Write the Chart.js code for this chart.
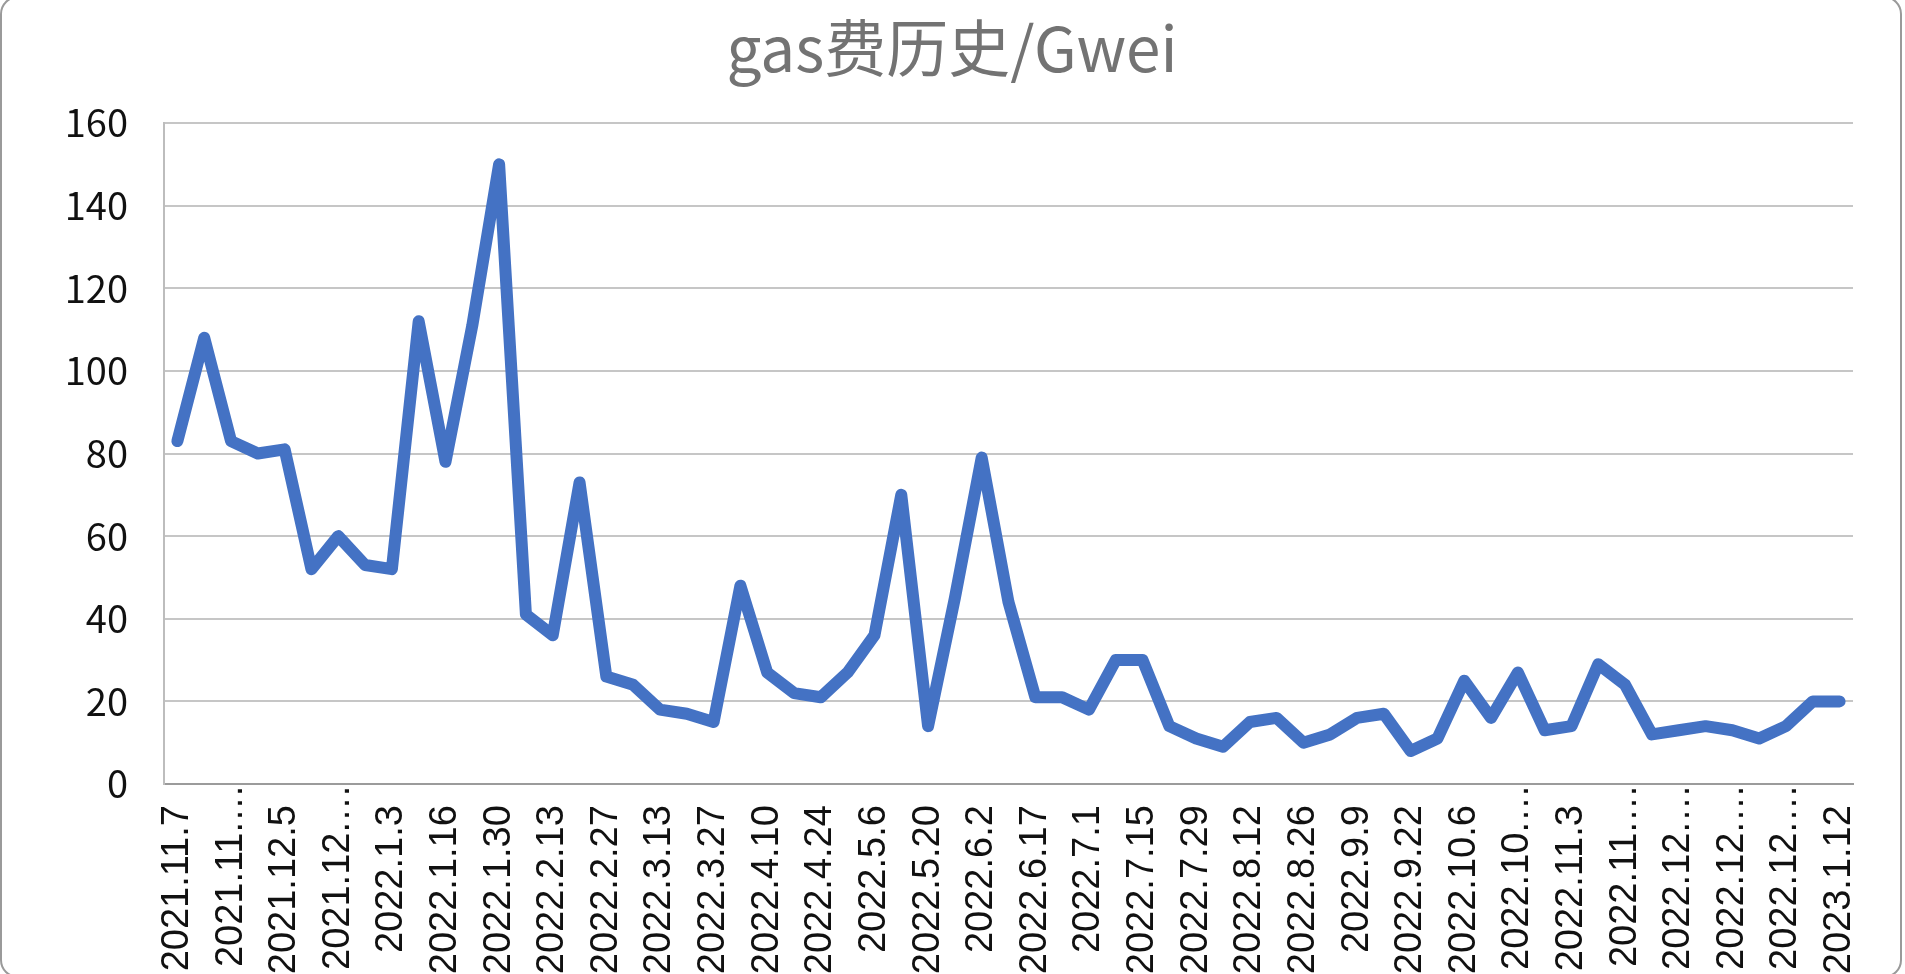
<!DOCTYPE html>
<html lang="zh">
<head>
  <meta charset="UTF-8">
  <title>gas费历史/Gwei</title>
  <script src="https://cdn.jsdelivr.net/npm/chart.js"></script>
  <style>
    html, body {
      margin: 0;
      padding: 0;
      background: #ffffff;
      overflow: hidden;
    }
    #frame {
      position: absolute;
      left: 0;
      top: -4px;
      width: 1898px;
      height: 978px;
      border: 2px solid #9a9a9a;
      border-radius: 18px;
      overflow: hidden;
      background: #ffffff;
    }
  </style>
</head>
<body>

  <div id="frame">
    <canvas id="gasChart"></canvas>
  </div>

  <script>
    // weekly dates (x categories)
    const dates = [
      '2021.11.7', '2021.11.14', '2021.11.21', '2021.11.28', '2021.12.5', '2021.12.12', '2021.12.19', '2021.12.26',
      '2022.1.3', '2022.1.9', '2022.1.16', '2022.1.23', '2022.1.30', '2022.2.6', '2022.2.13', '2022.2.20',
      '2022.2.27', '2022.3.6', '2022.3.13', '2022.3.20', '2022.3.27', '2022.4.3', '2022.4.10', '2022.4.17',
      '2022.4.24', '2022.4.30', '2022.5.6', '2022.5.13', '2022.5.20', '2022.5.27', '2022.6.2', '2022.6.10',
      '2022.6.17', '2022.6.24', '2022.7.1', '2022.7.8', '2022.7.15', '2022.7.22', '2022.7.29', '2022.8.5',
      '2022.8.12', '2022.8.19', '2022.8.26', '2022.9.2', '2022.9.9', '2022.9.16', '2022.9.22', '2022.9.29',
      '2022.10.6', '2022.10.13', '2022.10.20', '2022.10.27', '2022.11.3', '2022.11.10', '2022.11.17', '2022.11.24',
      '2022.12.10', '2022.12.17', '2022.12.24', '2022.12.28', '2022.12.31', '2023.1.5', '2023.1.12'
    ];

    // gas fee in Gwei
    const gasGwei = [
      83, 108, 83, 80, 81, 52, 60, 53,
      52, 112, 78, 111, 150, 41, 36, 73,
      26, 24, 18, 17, 15, 48, 27, 22,
      21, 27, 36, 70, 14, 45, 79, 44,
      21, 21, 18, 30, 30, 14, 11, 9,
      15, 16, 10, 12, 16, 17, 8, 11,
      25, 16, 27, 13, 14, 29, 24, 12,
      13, 14, 13, 11, 14, 20, 20
    ];

    const yMin = 0;
    const yMax = 160;
    const yStep = 20;

    const ctx = document.getElementById('gasChart').getContext('2d');
    new Chart(ctx, {
      type: 'line',
      data: {
        labels: dates,
        datasets: [{
          label: 'gas',
          data: gasGwei,
          borderColor: '#4472C4',
          borderWidth: 12,
          borderJoinStyle: 'round',
          borderCapStyle: 'round',
          pointRadius: 0,
          tension: 0,
          fill: false
        }]
      },
      options: {
        responsive: true,
        maintainAspectRatio: false,
        animation: false,
        layout: {
          padding: { left: 49, right: 47, top: 0, bottom: 0 }
        },
        plugins: {
          legend: { display: false },
          tooltip: { enabled: false },
          title: {
            display: true,
            text: 'gas费历史/Gwei',
            color: '#737373',
            font: { family: '"Noto Sans CJK SC", sans-serif', size: 62, weight: 'normal', lineHeight: 1 },
            padding: { top: 19, bottom: 44 }
          }
        },
        scales: {
          x: {
            offset: true,
            grid: { display: false, drawTicks: false },
            border: { display: true, color: '#9b9b9b', width: 2 },
            ticks: {
              autoSkip: false,
              maxRotation: 90,
              minRotation: 90,
              padding: 0,
              color: '#111111',
              font: { family: '"Liberation Sans", Arial, sans-serif', size: 38 },
              callback: function (value, index) {
                if (index % 2 !== 0) return '';
                const s = dates[index];
                // long labels get cut with an ellipsis, like the original
                return s.length > 9 ? s.slice(0, 8) + '\u2026' : s + '\u00a0\u00a0';
              }
            },
            afterFit: function (scale) { scale.height = 192; }
          },
          y: {
            min: yMin,
            max: yMax,
            grid: { color: '#c6c6c6', lineWidth: 2, drawTicks: false },
            border: { display: true, color: '#bdbdbd', width: 2 },
            ticks: {
              stepSize: yStep,
              padding: 36,
              color: '#111111',
              font: { family: '"Noto Sans CJK SC", sans-serif', size: 38 }
            },
            afterFit: function (scale) { scale.width = 113; }
          }
        }
      }
    });
  </script>

</body>
</html>
